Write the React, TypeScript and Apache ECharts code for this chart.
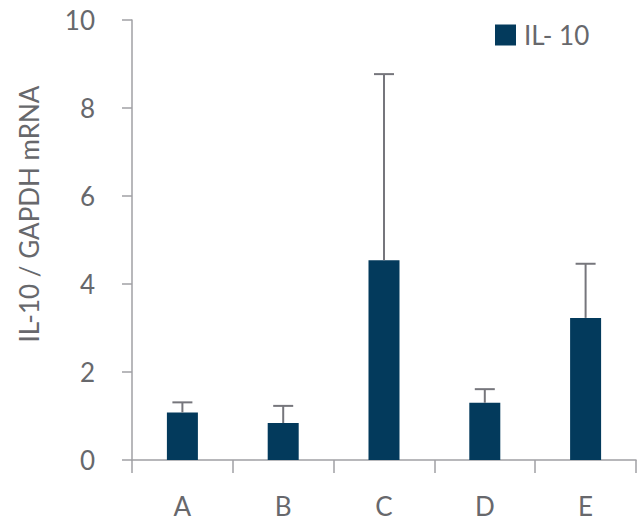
import React, { useEffect, useRef } from "react";
import * as echarts from "echarts";

const categories = ["A", "B", "C", "D", "E"];
const means = [1.08, 0.84, 4.54, 1.3, 3.23];
const errorTops = [1.31, 1.23, 8.77, 1.61, 4.46];
const yTicks = [0, 2, 4, 6, 8, 10];

const FONT = "Lato";
const FS = 26;
const TEXT = "#67686c";
const AXIS = "#a0a0a4";
const BAR = "#033a5c";

export default function App() {
  const ref = useRef<HTMLDivElement>(null);

  useEffect(() => {
    if (!ref.current) return;
    const chart = echarts.init(ref.current, null, { renderer: "svg" });

    const errorData = categories.map((_, i) => [i, means[i], errorTops[i]]);

    chart.setOption({
      animation: false,
      backgroundColor: "#ffffff",
      textStyle: { fontFamily: FONT },
      legend: {
        left: 490,
        top: 17,
        itemWidth: 21,
        itemHeight: 21,
        icon: "rect",
        data: [{ name: "IL- 10" }],
        textStyle: {
          fontFamily: FONT,
          fontSize: FS,
          color: TEXT,
          padding: [0, 0, 0, 3],
        },
      },
      graphic: [
        {
          type: "text",
          x: 29,
          y: 214,
          rotation: Math.PI / 2,
          style: {
            text: "IL-10 / GAPDH mRNA",
            fontFamily: FONT,
            fontSize: FS,
            fill: TEXT,
            align: "center",
            verticalAlign: "middle",
          },
        },
      ],
      grid: { left: 132, right: 3, top: 20, bottom: 62 },
      xAxis: {
        type: "category",
        data: categories,
        axisLine: { lineStyle: { color: AXIS, width: 1.5 } },
        axisTick: { show: true, length: 13, alignWithLabel: false, lineStyle: { color: AXIS, width: 1.5 } },
        axisLabel: { fontFamily: FONT, fontSize: FS, color: TEXT, margin: 33 },
      },
      yAxis: {
        type: "value",
        min: yTicks[0],
        max: yTicks[yTicks.length - 1],
        interval: 2,
        axisLine: { show: true, lineStyle: { color: AXIS, width: 1.5 } },
        axisTick: { show: true, length: 10, lineStyle: { color: AXIS, width: 1.5 } },
        splitLine: { show: false },
        axisLabel: { fontFamily: FONT, fontSize: FS, color: TEXT, margin: 37 },
      },
      series: [
        {
          name: "IL- 10",
          type: "bar",
          data: means,
          barWidth: 31,
          itemStyle: { color: BAR },
        },
        {
          name: "error",
          type: "custom",
          data: errorData,
          encode: { x: 0, y: 2 },
          z: 3,
          renderItem: (_params: any, api: any) => {
            const idx = api.value(0);
            const base = api.coord([idx, api.value(1)]);
            const top = api.coord([idx, api.value(2)]);
            const half = 10;
            const style = { stroke: "#76767c", lineWidth: 2 };
            return {
              type: "group",
              children: [
                { type: "line", shape: { x1: base[0], y1: base[1], x2: top[0], y2: top[1] }, style },
                { type: "line", shape: { x1: top[0] - half, y1: top[1], x2: top[0] + half, y2: top[1] }, style },
              ],
            };
          },
        },
      ],
    });

    return () => chart.dispose();
  }, []);

  return (
    <div
      ref={ref}
      style={{ position: "fixed", left: 0, top: 0, width: 639, height: 522 }}
    />
  );
}
